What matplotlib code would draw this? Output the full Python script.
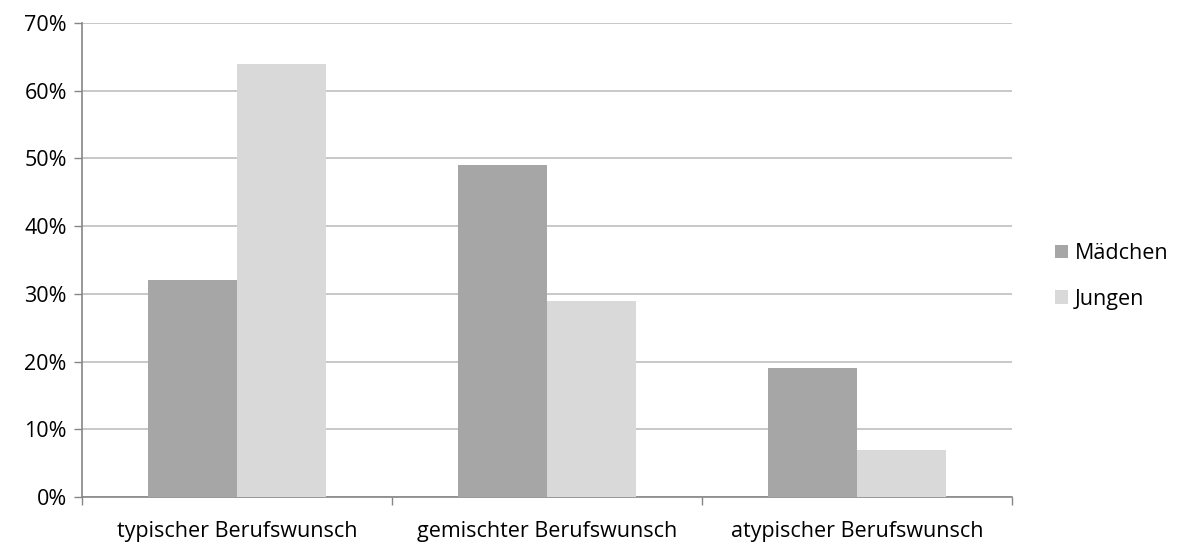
import matplotlib.pyplot as plt
from matplotlib.ticker import PercentFormatter
import numpy as np

categories = ["typischer Berufswunsch", "gemischter Berufswunsch", "atypischer Berufswunsch"]
maedchen = [32, 49, 19]
jungen = [64, 29, 7]

plt.rcParams["font.family"] = ["Open Sans", "DejaVu Sans"]

fig = plt.figure(figsize=(11.84, 5.44), dpi=100)
ax = fig.add_axes([0.0693, 0.0864, 0.7854, 0.8713])

x = np.arange(len(categories))
w = 0.287
ax.bar(x - w / 2, maedchen, w, color="#a6a6a6", label="Mädchen", zorder=3)
ax.bar(x + w / 2, jungen, w, color="#d9d9d9", label="Jungen", zorder=3)

ax.set_xlim(-0.5, 2.5)
ax.set_ylim(0, 70)
ax.set_yticks(range(0, 71, 10))
ax.yaxis.set_major_formatter(PercentFormatter(decimals=0))
ax.grid(axis="y", color="#bfbfbf", linewidth=1.2, zorder=0)

ax.set_xticks(x)
ax.set_xticklabels(categories)
ax.set_xticks([-0.5, 0.5, 1.5, 2.5], minor=True)
ax.tick_params(axis="x", which="major", length=0, pad=17)
ax.tick_params(axis="x", which="minor", length=6, color="#868686", width=1)
ax.tick_params(axis="y", length=6, color="#868686", width=1, pad=5)
ax.tick_params(labelsize=15.5, labelcolor="black")

for s in ["top", "right"]:
    ax.spines[s].set_visible(False)
for s in ["left", "bottom"]:
    ax.spines[s].set_color("#868686")
    ax.spines[s].set_linewidth(1.2)

fig.legend(loc="center left", bbox_to_anchor=(0.875, 0.492), frameon=False,
           fontsize=15.5, handlelength=0.6, handleheight=0.6, handletextpad=0.3,
           labelspacing=1.15)

plt.savefig("out.png", dpi=100)
